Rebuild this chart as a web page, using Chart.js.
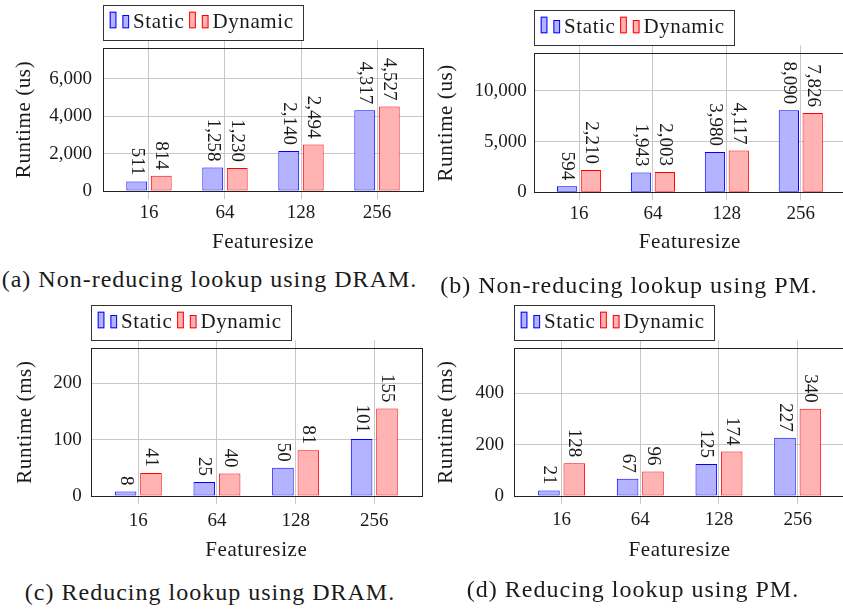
<!DOCTYPE html>
<html>
<head>
<meta charset="utf-8">
<script src="https://cdn.jsdelivr.net/npm/chart.js@4/dist/chart.umd.min.js"></script>
<style>
  html, body { margin: 0; padding: 0; background: #fff; }
  body { width: 843px; height: 609px; position: relative; overflow: hidden; color: #1a1a1a; }
  canvas { position: absolute; }
  .cap { position: absolute; white-space: nowrap; transform: translateX(-50%); }
</style>
</head>
<body>
<canvas id="chartA"></canvas>
<canvas id="chartB"></canvas>
<canvas id="chartC"></canvas>
<canvas id="chartD"></canvas>
<div class="cap" data-x="209.5" data-base="287">(a) Non-reducing lookup using DRAM.</div>
<div class="cap" data-x="629" data-base="293">(b) Non-reducing lookup using PM.</div>
<div class="cap" data-x="210" data-base="600">(c) Reducing lookup using DRAM.</div>
<div class="cap" data-x="633" data-base="597">(d) Reducing lookup using PM.</div>
<script>
// Categories and series
const featureSizes = ['16', '64', '128', '256'];
const seriesNames = ['Static', 'Dynamic'];

// Non-reducing lookup, runtime in microseconds
const staticDramNR  = [511, 1258, 2140, 4317];
const dynamicDramNR = [814, 1230, 2494, 4527];
const staticPmNR    = [594, 1943, 3980, 8090];
const dynamicPmNR   = [2210, 2003, 4117, 7826];

// Reducing lookup, runtime in milliseconds
const staticDramR  = [8, 25, 50, 101];
const dynamicDramR = [41, 40, 81, 155];
const staticPmR    = [21, 67, 125, 227];
const dynamicPmR   = [128, 96, 174, 340];

// Y tick values per panel
const yTicksDramNR = [0, 2000, 4000, 6000];
const yTicksPmNR   = [0, 5000, 10000];
const yTicksDramR  = [0, 100, 200];
const yTicksPmR    = [0, 200, 400];

// ---- type: first serif face that is present, with its sizes ----
const faces = [
  { name: 'Liberation Serif', digit: 19, text: 21, textGap: 0.6, cap: 24,   capGap: 1.0 },
  { name: 'DejaVu Serif',     digit: 16, text: 17, textGap: 0,   cap: 21.5, capGap: 0 }
];
const fallbackFace = { name: 'serif', digit: 19, text: 21, textGap: 0.6, cap: 24, capGap: 1.0 };

function hasFace(name) {
  const c = document.createElement('canvas').getContext('2d');
  const s = 'Featuresize Runtime 0123456789';
  c.font = '40px monospace';
  const base = c.measureText(s).width;
  c.font = '40px "' + name + '", monospace';
  return Math.abs(c.measureText(s).width - base) > 0.5;
}

const face = faces.find(f => hasFace(f.name)) || fallbackFace;
const FAMILY = face.name === 'serif' ? 'serif' : '"' + face.name + '", serif';
const TEXT_SIZE = face.text, DIGIT_SIZE = face.digit;
const TICK_LEN = 8, LABEL_GAP = 6;
const INK = '#1a1a1a', GRID = '#c8c8c8', FRAME = '#222';
const X_PAD = 0.605;
const palette = [
  { fill: 'rgb(179,179,255)', line: 'rgb(0,0,255)' },
  { fill: 'rgb(255,179,179)', line: 'rgb(255,0,0)' }
];

Chart.defaults.font.family = FAMILY;
Chart.defaults.font.size = DIGIT_SIZE;
Chart.defaults.color = INK;

const fmt = v => Number(v).toLocaleString('en-US');

// captions under each panel, placed by baseline
document.querySelectorAll('.cap').forEach(el => {
  el.style.fontFamily = FAMILY;
  el.style.fontSize = face.cap + 'px';
  el.style.lineHeight = face.cap + 'px';
  el.style.letterSpacing = face.capGap + 'px';
  el.style.left = el.dataset.x + 'px';
  el.style.top = (Number(el.dataset.base) - 0.84 * face.cap) + 'px';
});

// a little letter spacing on the axis titles
const spacedTitles = {
  id: 'spacedTitles',
  beforeDraw(chart) {
    if (!face.textGap) return;
    Object.values(chart.scales).forEach(s => {
      if (s._spaced) return;
      const orig = s.drawTitle.bind(s);
      s.drawTitle = function () {
        const c = s.ctx, prev = c.letterSpacing;
        c.letterSpacing = face.textGap + 'px';
        orig();
        c.letterSpacing = prev;
      };
      s._spaced = true;
    });
  }
};

// closed box around the plot area
const frame = {
  id: 'frame',
  afterDatasetsDraw(chart) {
    const a = chart.chartArea, c = chart.ctx;
    const l = Math.round(a.left), t = Math.round(a.top);
    const r = Math.round(a.right), b = Math.round(a.bottom);
    c.save();
    c.strokeStyle = FRAME;
    c.lineWidth = 1;
    c.strokeRect(l + 0.5, t + 0.5, r - l, b - t);
    c.restore();
  }
};

// rotated value labels above each bar
const valueLabels = {
  id: 'valueLabels',
  afterDatasetsDraw(chart) {
    const c = chart.ctx;
    c.save();
    c.font = DIGIT_SIZE + 'px ' + FAMILY;
    c.fillStyle = INK;
    c.textAlign = 'right';
    c.textBaseline = 'middle';
    chart.data.datasets.forEach((ds, k) => {
      chart.getDatasetMeta(k).data.forEach((bar, i) => {
        c.save();
        c.translate(bar.x, bar.y - LABEL_GAP);
        c.rotate(Math.PI / 2);
        c.fillText(fmt(ds.data[i].y), 0, 0);
        c.restore();
      });
    });
    c.restore();
  }
};

// boxed legend with twin-bar swatches, sitting above the plot
const legendBox = {
  id: 'legendBox',
  afterDraw(chart) {
    const c = chart.ctx, a = chart.chartArea;
    const h = 35, bottom = Math.round(a.top) - 8, top = bottom - h;
    const left = Math.round(a.left);
    c.save();
    c.font = TEXT_SIZE + 'px ' + FAMILY;
    c.letterSpacing = face.textGap + 'px';
    c.textBaseline = 'alphabetic';
    let x = left + 6.7;
    chart.data.datasets.forEach(ds => {
      c.fillStyle = ds.backgroundColor;
      c.strokeStyle = ds.borderColor;
      c.lineWidth = 1;
      c.fillRect(x, top + 6.7, 6.7, 16.6);
      c.strokeRect(x + 0.5, top + 7.2, 5.7, 15.6);
      c.fillRect(x + 12.7, top + 10, 6.7, 13.3);
      c.strokeRect(x + 13.2, top + 10.5, 5.7, 12.3);
      c.fillStyle = INK;
      c.fillText(ds.label, x + 23.3, top + 23.3);
      x += 23.3 + c.measureText(ds.label).width + 4.7;
    });
    const right = Math.round(x - 4.7 + 9);
    c.strokeStyle = '#333';
    c.lineWidth = 1;
    c.strokeRect(left + 0.5, top + 0.5, right - left, h);
    c.restore();
  }
};

const panels = [
  { id: 'chartA', series: [staticDramNR, dynamicDramNR], yTicks: yTicksDramNR, yMax: 7650, yTitle: 'Runtime (us)',
    box: { ox: 0, oy: 0, w: 428, h: 262, L: 103, T: 48, R: 423, B: 191,
           yTickRight: 92, yTitleX: 24.5, xTickY: 213, xTitleY: 242 } },
  { id: 'chartB', series: [staticPmNR, dynamicPmNR], yTicks: yTicksPmNR, yMax: 13700, yTitle: 'Runtime (us)',
    box: { ox: 425, oy: 0, w: 425, h: 262, L: 534.3, T: 53.3, R: 845.5, B: 192.3,
           yTickRight: 526.7, yTitleX: 446, xTickY: 214, xTitleY: 242.5 } },
  { id: 'chartC', series: [staticDramR, dynamicDramR], yTicks: yTicksDramR, yMax: 262, yTitle: 'Runtime (ms)',
    box: { ox: 0, oy: 300, w: 428, h: 262, L: 90.7, T: 348.3, R: 421.9, B: 496,
           yTickRight: 81.7, yTitleX: 25, xTickY: 521, xTitleY: 550.5 } },
  { id: 'chartD', series: [staticPmR, dynamicPmR], yTicks: yTicksPmR, yMax: 576, yTitle: 'Runtime (ms)',
    box: { ox: 425, oy: 300, w: 425, h: 262, L: 514, T: 348.3, R: 845.3, B: 496,
           yTickRight: 504, yTitleX: 446, xTickY: 520.5, xTitleY: 550.5 } }
];

function build(p) {
  const g = p.box;
  const L = g.L - g.ox, T = g.T - g.oy, R = g.R - g.ox, B = g.B - g.oy;
  const canvas = document.getElementById(p.id);
  canvas.width = g.w;
  canvas.height = g.h;
  canvas.style.left = g.ox + 'px';
  canvas.style.top = g.oy + 'px';

  const xTickList = () => featureSizes.map((_, i) => ({ value: i }));
  const xRange = { min: -X_PAD, max: featureSizes.length - 1 + X_PAD };

  return new Chart(canvas, {
    type: 'bar',
    data: {
      datasets: seriesNames.map((name, k) => ({
        label: name,
        data: p.series[k].map((v, i) => ({ x: i, y: v })),
        backgroundColor: palette[k].fill,
        borderColor: palette[k].line,
        borderWidth: 1,
        borderSkipped: false,
        categoryPercentage: 0.645,
        barPercentage: 0.85
      }))
    },
    options: {
      responsive: false,
      animation: false,
      devicePixelRatio: 1,
      layout: { padding: { left: 0, top: T, right: g.w - R, bottom: 0 } },
      plugins: { legend: { display: false }, tooltip: { enabled: false } },
      scales: {
        x: {
          type: 'linear', position: 'bottom', offset: false, ...xRange,
          afterBuildTicks: s => { s.ticks = xTickList(); },
          afterFit: s => { s.height = g.h - B; },
          grid: { color: GRID, tickColor: GRID, tickLength: TICK_LEN, offset: false },
          border: { display: false },
          ticks: {
            font: { family: FAMILY, size: DIGIT_SIZE, lineHeight: 1 },
            padding: (g.xTickY - g.oy) - B - TICK_LEN - DIGIT_SIZE / 2,
            maxRotation: 0, autoSkip: false,
            callback: v => featureSizes[v]
          },
          title: {
            display: true, text: 'Featuresize',
            font: { family: FAMILY, size: TEXT_SIZE, lineHeight: 1 },
            padding: { top: 0, bottom: g.h - (g.xTitleY - g.oy) - TEXT_SIZE / 2 }
          }
        },
        xTop: {
          type: 'linear', position: 'top', offset: false, ...xRange,
          afterBuildTicks: s => { s.ticks = xTickList(); },
          afterFit: s => { s.height = 0; },
          grid: { color: GRID, tickColor: GRID, tickLength: TICK_LEN, drawOnChartArea: false, offset: false },
          border: { display: false },
          ticks: { display: false }
        },
        y: {
          type: 'linear', min: 0, max: p.yMax,
          afterBuildTicks: s => { s.ticks = p.yTicks.map(v => ({ value: v })); },
          afterFit: s => { s.width = L; },
          grid: { color: GRID, drawTicks: false },
          border: { display: false },
          ticks: {
            font: { family: FAMILY, size: DIGIT_SIZE, lineHeight: 1 },
            padding: L - (g.yTickRight - g.ox),
            callback: v => fmt(v)
          },
          title: {
            display: true, text: p.yTitle,
            font: { family: FAMILY, size: TEXT_SIZE, lineHeight: 1 },
            padding: { top: (g.yTitleX - g.ox) - TEXT_SIZE / 2, bottom: 0 }
          }
        }
      }
    },
    plugins: [spacedTitles, frame, valueLabels, legendBox]
  });
}

panels.forEach(build);
</script>
</body>
</html>
